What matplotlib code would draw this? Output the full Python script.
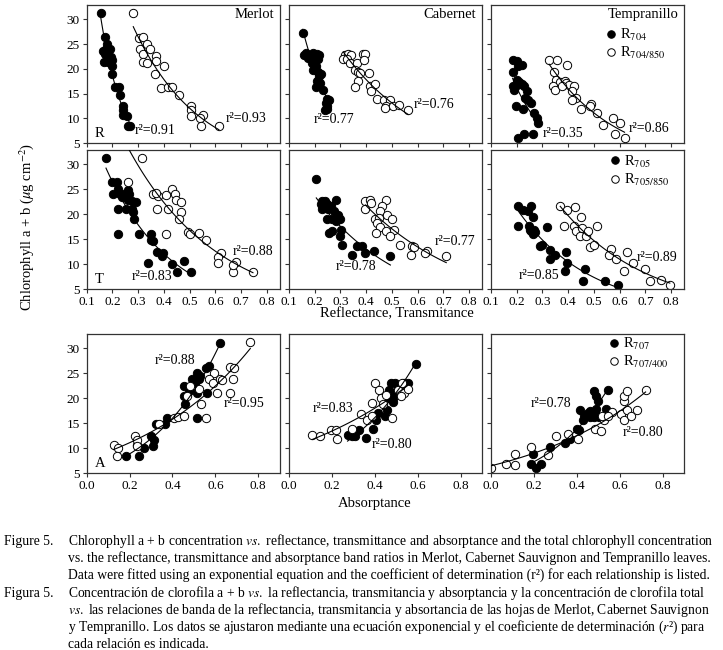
import numpy as np
import matplotlib
matplotlib.use("Agg")
import matplotlib.pyplot as plt

plt.rcParams['font.family'] = ['Liberation Serif', 'DejaVu Serif']
plt.rcParams['mathtext.fontset'] = 'stix'

# ---- data ----
# row 1: reflectance (R)
merlot_r_fill_x = [0.154,0.172,0.178,0.175,0.19,0.165,0.171,0.194,0.2,0.168,0.184,0.2,0.197,0.21,0.225,0.23,0.24,0.24,0.24,0.255,0.26,0.27]
merlot_r_fill_y = [31.3,26.4,25.0,24.0,24.0,23.5,23.0,22.3,21.7,21.3,21.3,20.5,19.0,16.3,16.3,14.8,12.4,11.7,10.7,10.4,8.5,8.5]
merlot_r_open_x = [0.281,0.304,0.317,0.309,0.333,0.345,0.32,0.371,0.371,0.317,0.335,0.4,0.365,0.39,0.414,0.43,0.459,0.504,0.504,0.504,0.552,0.54,0.543,0.614]
merlot_r_open_y = [31.3,26.3,26.4,24.0,25.0,24.0,23.0,22.5,21.5,21.3,21.1,20.5,19.0,16.1,16.3,16.3,14.8,12.5,11.7,10.4,10.7,10.0,8.5,8.5]

cab_r_fill_x = [0.153,0.158,0.168,0.181,0.194,0.207,0.218,0.175,0.188,0.2,0.213,0.191,0.204,0.194,0.213,0.224,0.218,0.21,0.22,0.205,0.233,0.249,0.256,0.243,0.246,0.249,0.24]
cab_r_fill_y = [27.2,22.8,23.1,22.8,23.1,23.0,22.8,22.1,21.9,21.8,21.9,21.1,20.5,19.8,19.4,19.0,18.6,17.6,17.1,16.3,15.8,13.9,13.7,13.1,12.4,11.9,11.7]
cab_r_open_x = [0.317,0.33,0.34,0.311,0.324,0.337,0.363,0.388,0.394,0.391,0.356,0.369,0.375,0.411,0.369,0.358,0.414,0.417,0.433,0.442,0.469,0.492,0.478,0.504,0.472,0.528,0.563]
cab_r_open_y = [22.8,22.9,22.8,21.9,21.9,21.1,21.1,22.9,23.0,21.8,19.8,19.4,19.1,19.2,17.6,16.3,16.6,15.6,17.0,13.9,13.7,13.6,12.5,12.4,12.1,12.7,11.7]

temp_r_fill_x = [0.187,0.202,0.219,0.206,0.184,0.2,0.21,0.219,0.187,0.202,0.229,0.191,0.238,0.232,0.245,0.255,0.197,0.225,0.267,0.277,0.283,0.203,0.229,0.264]
temp_r_fill_y = [21.7,21.6,20.7,20.6,19.4,17.8,17.4,17.0,16.6,16.8,16.6,15.8,15.6,14.1,13.7,13.1,12.5,11.9,11.0,10.0,9.0,6.0,6.8,6.8]
temp_r_open_x = [0.326,0.358,0.396,0.343,0.352,0.367,0.386,0.39,0.405,0.421,0.342,0.349,0.374,0.416,0.432,0.416,0.49,0.484,0.451,0.51,0.535,0.574,0.6,0.58,0.619]
temp_r_open_y = [21.7,21.7,20.7,19.4,17.8,17.4,17.6,17.1,16.8,16.6,16.6,15.8,16.6,15.6,14.1,13.6,12.9,12.4,11.9,11.0,8.7,10.0,9.0,6.8,6.0]

# row 2: transmittance (T)
merlot_t_fill_x = [0.175,0.2,0.216,0.203,0.22,0.229,0.242,0.259,0.265,0.238,0.262,0.275,0.291,0.223,0.253,0.275,0.279,0.285,0.22,0.303,0.348,0.349,0.356,0.374,0.397,0.391,0.34,0.477,0.433,0.449,0.504]
merlot_t_fill_y = [31.3,26.5,26.4,24.0,25.0,24.0,24.1,24.9,24.0,23.5,22.9,22.7,22.5,21.1,21.1,21.1,20.4,19.0,16.1,16.1,16.1,14.8,14.7,12.5,12.2,11.7,10.3,10.7,10.1,8.5,8.4]
merlot_t_open_x = [0.313,0.262,0.358,0.378,0.371,0.41,0.43,0.443,0.446,0.468,0.468,0.417,0.374,0.459,0.407,0.494,0.5,0.536,0.562,0.623,0.61,0.61,0.679,0.668,0.668,0.746]
merlot_t_open_y = [31.3,26.4,24.0,23.7,24.3,23.8,25.0,24.1,22.9,22.5,20.4,21.1,21.1,19.0,16.1,16.4,16.1,16.3,14.9,12.3,11.5,10.3,10.5,8.5,9.9,8.5]

cab_t_fill_x = [0.206,0.227,0.24,0.223,0.236,0.249,0.281,0.229,0.252,0.265,0.274,0.249,0.268,0.291,0.3,0.281,0.304,0.255,0.268,0.3,0.307,0.365,0.382,0.345,0.395,0.429,0.494]
cab_t_fill_y = [27.0,22.7,22.7,22.0,22.0,22.0,22.9,21.1,21.1,21.6,20.6,19.1,19.1,19.8,19.1,18.6,16.9,16.3,16.6,15.6,13.9,13.7,13.7,11.9,12.3,12.7,11.7]
cab_t_open_x = [0.397,0.413,0.417,0.397,0.475,0.462,0.455,0.481,0.436,0.449,0.5,0.442,0.507,0.455,0.475,0.439,0.491,0.533,0.578,0.584,0.574,0.636,0.63,0.711]
cab_t_open_y = [22.7,22.9,22.3,21.1,22.9,21.6,20.6,19.9,19.1,19.3,19.1,18.3,16.9,17.5,16.6,16.3,15.6,13.9,13.6,13.4,11.9,12.7,12.3,11.7]

temp_t_fill_x = [0.204,0.226,0.245,0.254,0.262,0.206,0.249,0.252,0.269,0.27,0.265,0.256,0.317,0.291,0.297,0.33,0.33,0.349,0.392,0.397,0.386,0.466,0.457,0.544,0.594]
temp_t_fill_y = [21.6,20.8,20.6,21.6,19.5,17.7,17.7,16.8,16.9,16.4,16.1,16.6,17.5,13.6,13.9,12.9,11.0,11.9,12.5,10.2,8.7,9.0,6.7,6.7,5.9]
temp_t_open_x = [0.369,0.397,0.427,0.449,0.382,0.421,0.431,0.453,0.444,0.47,0.475,0.512,0.486,0.499,0.566,0.557,0.587,0.628,0.652,0.616,0.7,0.719,0.762,0.795]
temp_t_open_y = [21.6,20.8,21.5,19.4,17.7,17.7,16.6,17.3,15.6,15.7,16.6,17.6,13.4,13.9,13.0,11.9,11.0,12.5,10.2,8.7,9.0,6.6,6.8,5.9]

# row 3: absorptance (A)
merlot_a_fill_x = [0.184,0.246,0.233,0.268,0.311,0.299,0.314,0.324,0.373,0.366,0.454,0.459,0.456,0.479,0.49,0.513,0.506,0.526,0.516,0.529,0.56,0.557,0.572,0.623,0.514]
merlot_a_fill_y = [8.5,8.5,10.7,10.0,10.4,12.4,11.7,14.9,16.1,14.9,20.4,18.9,22.4,21.4,23.9,25.0,23.0,23.9,21.1,24.4,21.1,26.1,26.4,31.1,16.1]
merlot_a_open_x = [0.125,0.148,0.14,0.226,0.236,0.233,0.339,0.405,0.428,0.454,0.47,0.482,0.526,0.534,0.557,0.595,0.572,0.591,0.607,0.623,0.63,0.669,0.685,0.682,0.666,0.763]
merlot_a_open_y = [10.7,10.0,8.5,12.5,11.7,10.4,14.9,16.1,16.2,16.4,20.4,22.4,21.9,18.9,16.1,25.0,23.9,23.0,21.1,23.9,23.6,26.3,26.1,23.9,21.1,31.3]

cab_a_fill_x = [0.592,0.475,0.495,0.537,0.553,0.506,0.464,0.48,0.467,0.486,0.483,0.455,0.413,0.449,0.405,0.327,0.394,0.273,0.293,0.308,0.358]
cab_a_fill_y = [26.9,23.0,23.1,23.0,23.0,22.1,21.6,21.1,20.1,20.1,19.2,17.7,17.1,16.5,15.6,13.7,13.8,12.7,12.5,12.4,12.0]
cab_a_open_x = [0.109,0.143,0.195,0.221,0.226,0.296,0.335,0.366,0.389,0.386,0.402,0.421,0.428,0.452,0.439,0.48,0.506,0.526,0.537,0.553,0.522]
cab_a_open_y = [12.7,12.4,13.6,13.6,11.8,13.8,16.9,15.6,16.5,19.1,23.0,21.6,20.1,20.6,18.9,16.1,21.7,23.0,21.1,21.9,20.4]

temp_a_fill_x = [0.211,0.186,0.232,0.195,0.273,0.343,0.367,0.401,0.409,0.429,0.413,0.432,0.451,0.463,0.46,0.482,0.487,0.491,0.502,0.538,0.479,0.491,0.498,0.544]
temp_a_fill_y = [6.0,6.8,6.8,8.9,10.2,11.0,11.9,13.8,13.6,15.6,17.6,16.7,17.1,17.4,16.3,16.3,17.1,17.8,16.3,17.9,21.4,20.5,19.5,21.6]
temp_a_open_x = [0.0,0.07,0.112,0.112,0.186,0.268,0.304,0.357,0.406,0.487,0.513,0.526,0.518,0.565,0.544,0.604,0.622,0.632,0.651,0.679,0.619,0.619,0.632,0.721]
temp_a_open_y = [6.0,6.8,6.7,8.9,10.2,8.7,12.5,12.9,11.8,13.8,13.4,15.7,16.5,17.2,16.5,16.9,15.7,17.7,16.5,17.7,19.4,20.5,21.4,21.6]

cultivars = ['Merlot', 'Cabernet', 'Tempranillo']
row_tags = ['R', 'T', 'A']
r2_fill = [['0.91', '0.77', '0.35'], ['0.83', '0.78', '0.85'], ['0.88', '0.80', '0.78']]
r2_open = [['0.93', '0.76', '0.86'], ['0.88', '0.77', '0.89'], ['0.95', '0.83', '0.80']]
legend_fill = [r'R$_{\mathrm{704}}$', r'R$_{\mathrm{705}}$', r'R$_{\mathrm{707}}$']
legend_open = [r'R$_{\mathrm{704/850}}$', r'R$_{\mathrm{705/850}}$', r'R$_{\mathrm{707/400}}$']

series = [
    [(merlot_r_fill_x, merlot_r_fill_y, merlot_r_open_x, merlot_r_open_y),
     (cab_r_fill_x, cab_r_fill_y, cab_r_open_x, cab_r_open_y),
     (temp_r_fill_x, temp_r_fill_y, temp_r_open_x, temp_r_open_y)],
    [(merlot_t_fill_x, merlot_t_fill_y, merlot_t_open_x, merlot_t_open_y),
     (cab_t_fill_x, cab_t_fill_y, cab_t_open_x, cab_t_open_y),
     (temp_t_fill_x, temp_t_fill_y, temp_t_open_x, temp_t_open_y)],
    [(merlot_a_fill_x, merlot_a_fill_y, merlot_a_open_x, merlot_a_open_y),
     (cab_a_fill_x, cab_a_fill_y, cab_a_open_x, cab_a_open_y),
     (temp_a_fill_x, temp_a_fill_y, temp_a_open_x, temp_a_open_y)],
]

# ---- layout (pixels of a 723x650 figure) ----
W, H = 723, 650
col_left = [86.7, 289, 491]
col_w = 193
row_span = [(5, 143), (150, 289), (334, 473)]

# r2 label positions in data coords (fill, open)
r2_pos_fill = [[(0.288, 7.5), (0.197, 9.7), (0.30, 7.0)],
               [(0.274, 7.5), (0.281, 9.5), (0.206, 7.8)],
               [(0.319, 27.5), (0.386, 10.7), (0.183, 18.9)]]
r2_pos_open = [[(0.64, 10.0), (0.584, 12.7), (0.635, 8.0)],
               [(0.668, 12.5), (0.668, 14.6), (0.665, 11.4)],
               [(0.641, 18.9), (0.109, 17.9), (0.612, 13.2)]]
legend_anchor = [(0.60, 0.84), (0.62, 0.975), (0.615, 0.985)]

fig = plt.figure(figsize=(W / 100, H / 100), dpi=100)
edge = '#333333'
ms = 6.0


def exp_fit(ax, x, y):
    x = np.asarray(x)
    y = np.asarray(y)
    b, a = np.polyfit(x, np.log(y), 1)
    xs = np.linspace(x.min(), x.max(), 100)
    ax.plot(xs, np.exp(a + b * xs), color='black', lw=0.8, zorder=3)


for r in range(3):
    yt, yb = row_span[r]
    for c in range(3):
        ax = fig.add_axes([col_left[c] / W, 1 - yb / H, col_w / W, (yb - yt) / H])
        fx, fy, ox, oy = series[r][c]
        ax.plot(fx, fy, 'o', ms=ms, mfc='black', mec='black', mew=0.7, ls='none',
                label=legend_fill[r], zorder=2)
        ax.plot(ox, oy, 'o', ms=ms, mfc='white', mec='black', mew=0.7, ls='none',
                label=legend_open[r], zorder=2)
        exp_fit(ax, fx, fy)
        exp_fit(ax, ox, oy)

        if r < 2:
            ax.set_xlim(0.1, 0.85)
            ax.set_xticks(np.arange(0.1, 0.81, 0.1))
        else:
            ax.set_xlim(0.0, 0.9)
            ax.set_xticks([0.0, 0.2, 0.4, 0.6, 0.8])
        ax.set_ylim(5, 32.9)
        ax.set_yticks([5, 10, 15, 20, 25, 30])
        ax.tick_params(direction='out', length=3, width=0.8, color=edge,
                       labelsize=9.5, pad=2, top=False, right=False)
        if r == 0:
            ax.tick_params(labelbottom=False)
        if c > 0:
            ax.tick_params(labelleft=False)
        for s in ax.spines.values():
            s.set_color(edge)
            s.set_linewidth(0.9)

        px, py = r2_pos_fill[r][c]
        ax.text(px, py, 'r²=' + r2_fill[r][c], fontsize=10, ha='left', va='center',
                zorder=4)
        px, py = r2_pos_open[r][c]
        ax.text(px, py, 'r²=' + r2_open[r][c], fontsize=10, ha='left', va='center',
                zorder=4, clip_on=False)

        if c == 0:
            ax.text(0.04, 0.07, row_tags[r], transform=ax.transAxes, fontsize=10.5,
                    ha='left', va='center')
        if r == 0:
            ax.text(0.97, 0.93, cultivars[c], transform=ax.transAxes, fontsize=10.5,
                    ha='right', va='center')
        if c == 2:
            ax.legend(loc='upper left', bbox_to_anchor=legend_anchor[r], frameon=False,
                      fontsize=10.5, handlelength=0.6, handletextpad=0.3,
                      labelspacing=0.15, borderpad=0, borderaxespad=0, markerscale=0.9)

fig.text(397 / W, 1 - 314 / H, 'Reflectance, Transmitance', fontsize=10.5,
         ha='center', va='center')
fig.text(375 / W, 1 - 503 / H, 'Absorptance', fontsize=10.5, ha='center', va='center')
fig.text(27 / W, 1 - 227 / H, r'Chlorophyll a + b ($\mathit{\mu}$g cm$^{-2}$)',
         fontsize=10.5, rotation=90, ha='center', va='center')

# caption
cap_lines = [
    (541, 'Figure 5.', r'Chlorophyll a + b concentration $\mathit{vs.}$ reflectance, transmittance and absorptance and the total chlorophyll concentration'),
    (558, '', 'vs. the reflectance, transmittance and absorptance band ratios in Merlot, Cabernet Sauvignon and Tempranillo leaves.'),
    (575, '', 'Data were fitted using an exponential equation and the coefficient of determination (r²) for each relationship is listed.'),
    (593, 'Figura 5.', r'Concentración de clorofila a + b $\mathit{vs.}$ la reflectancia, transmitancia y absorptancia y la concentración de clorofila total'),
    (610, '', r'$\mathit{vs.}$ las relaciones de banda de la reflectancia, transmitancia y absortancia de las hojas de Merlot, Cabernet Sauvignon'),
    (627, '', r'y Tempranillo. Los datos se ajustaron mediante una ecuación exponencial y el coeficiente de determinación ($\mathit{r}$²) para'),
    (644, '', 'cada relación es indicada.'),
]
for yy, head, body in cap_lines:
    if head:
        fig.text(4 / W, 1 - yy / H, head, fontsize=9.8, ha='left', va='center')
    fig.text(68 / W, 1 - yy / H, body, fontsize=9.8, ha='left', va='center')

fig.savefig('out.png', dpi=100)
